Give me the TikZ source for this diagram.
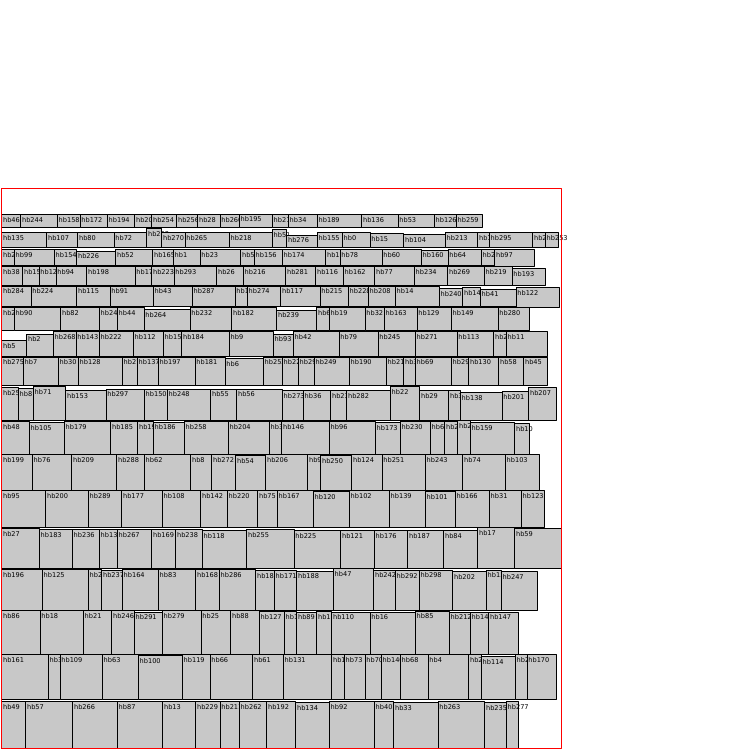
\documentclass[tikz,border=0pt]{standalone}
\usepackage{fontspec}
\newfontfamily\tagfont{DejaVu Sans}
\begin{document}
\begin{tikzpicture}[x=1pt, y=-1pt, line join=round]
  \definecolor{boxgray}{RGB}{200,200,200}
  \path[use as bounding box] (0,0) rectangle (750,750);
  \fill[white] (0,0) rectangle (750,750);
  \tikzset{
    hbbox/.style={draw=black, fill=boxgray, line width=0.9pt, anchor=north west,
      inner sep=0pt, outer sep=0pt},
    hbtag/.style={anchor=base west, inner sep=0pt, text=black,
      font=\tagfont\fontsize{6.6}{7}\selectfont}
  }
  % Shelves are packed top to bottom; each box is drawn with its tag, left to right.
  % shelf 1
  \foreach \x/\y/\w/\h/\n in {1.7/214.5/19.0/13/hb46, 20.7/214.5/36.6/13/hb244,
    57.3/214.5/22.7/13/hb158, 80.0/214.5/27.3/13/hb172, 107.3/214.5/27.4/13/hb194,
    134.7/214.5/17.0/13/hb203, 151.7/214.5/25.0/13/hb254, 176.7/214.5/21.0/13/hb256,
    197.7/214.5/22.3/13/hb28, 220.0/214.5/19.3/13/hb260, 239.3/214/33.0/13.5/hb195,
    272.3/214.5/16.0/13/hb210, 288.3/214.5/29.0/13/hb34, 317.3/214.5/44.4/13/hb189,
    361.7/214.5/36.3/13/hb136, 398.0/214.5/36.3/13/hb53, 434.3/214.5/22.0/13/hb126,
    456.3/214.5/25.7/13/hb259}{
    \node[hbbox, minimum width=\w pt, minimum height=\h pt] (\n) at (\x,\y) {};
    \node[hbtag] at ([xshift=1.2pt,yshift=-7.9pt]\n.north west) {\n};
  }
  % shelf 2
  \foreach \x/\y/\w/\h/\n in {1.7/232.7/45.0/15/hb135, 46.7/232.7/31.0/15/hb107,
    77.7/232.7/36.3/15/hb80, 114.0/232.7/32.7/15/hb72, 146.7/228.3/15.0/19.4/hb233,
    161.7/232.7/23.3/15/hb270, 185.0/232.7/44.3/15/hb265, 229.3/232.7/43.0/15/hb218,
    272.3/229.3/14.4/18.4/hb51, 286.7/235/30.6/12.7/hb276, 317.3/232.7/25.0/15/hb155,
    342.3/232.7/27.7/15/hb0, 370/233.3/33.7/14.4/hb15, 403.7/234.3/41.6/13.4/hb104,
    445.3/232.7/32.4/15/hb213, 477.7/232.7/11.6/15/hb106, 489.3/232.7/43.4/15/hb295,
    532.7/232.7/12.6/15/hb290, 545.3/232.7/12.7/14.6/hb253}{
    \node[hbbox, minimum width=\w pt, minimum height=\h pt] (\n) at (\x,\y) {};
    \node[hbtag] at ([xshift=1.2pt,yshift=-7.9pt]\n.north west) {\n};
  }
  % shelf 3
  \foreach \x/\y/\w/\h/\n in {1.7/249.3/12.6/15.7/hb20, 14.3/249.3/40.0/15.7/hb99,
    54.3/249.3/22.4/15.7/hb154, 76.7/251/39.0/14/hb226, 115.7/249.3/37.0/15.7/hb52,
    152.7/249.3/20.6/15.7/hb165, 173.3/249.3/26.7/15.7/hb1, 200/249.3/40.7/15.7/hb23,
    240.7/249.3/13.6/15.7/hb50, 254.3/249.3/28.0/15.7/hb156, 282.3/249.3/43.4/15.7/hb174,
    325.7/249.3/14.3/15.7/hb175, 340/249.3/42/15.7/hb78, 382/249.3/39.3/15.7/hb60,
    421.3/250/26.7/15/hb160, 448/249.3/33.3/15.7/hb64, 481.3/249.3/13.4/15.7/hb283,
    494.7/249.3/39.6/16.7/hb97}{
    \node[hbbox, minimum width=\w pt, minimum height=\h pt] (\n) at (\x,\y) {};
    \node[hbtag] at ([xshift=1.2pt,yshift=-7.9pt]\n.north west) {\n};
  }
  % shelf 4
  \foreach \x/\y/\w/\h/\n in {1.7/266.7/21.0/18.3/hb38, 22.7/266.7/16.3/18.3/hb157,
    39/266.7/17/18.3/hb12, 56/266.7/30.7/18.3/hb94, 86.7/266.7/48.3/18.3/hb198,
    135/266.7/16.7/18.3/hb178, 151.7/266.7/22.3/18.3/hb223, 174/266.7/42.7/18.3/hb293,
    216.7/266.7/26.6/18.3/hb26, 243.3/266.7/42.4/18.3/hb216, 285.7/266.7/30/18.3/hb281,
    315.7/266.7/27.6/18.3/hb116, 343.3/266.7/31.4/18.3/hb162, 374.7/266.7/39.6/18.3/hb77,
    414.3/266.7/33.4/18.3/hb234, 447.7/266.7/36.6/18.3/hb269, 484.3/266.7/27.7/18.3/hb219,
    512/268.3/33.3/16.7/hb193}{
    \node[hbbox, minimum width=\w pt, minimum height=\h pt] (\n) at (\x,\y) {};
    \node[hbtag] at ([xshift=1.2pt,yshift=-7.9pt]\n.north west) {\n};
  }
  % shelf 5
  \foreach \x/\y/\w/\h/\n in {1.7/286/29.3/20.7/hb284, 31/286/45.7/20.7/hb224,
    76.7/286/33.3/20.7/hb115, 110/286/43.3/20.7/hb91, 153.3/286/39/20.7/hb43,
    192.3/286/42.7/20.7/hb287, 235/286/12.3/20.7/hb111, 247.3/286/33.4/20.7/hb274,
    280.7/286/39.3/20.7/hb117, 320/286/28.3/20.7/hb215, 348.3/286/20/20.7/hb228,
    368.3/286/27/20.7/hb208, 395.3/286/44/20.7/hb14, 439.3/288.7/23.4/18/hb240,
    462.7/287.3/17.6/19.4/hb148, 480.3/289/35.7/17.7/hb41, 516/287.7/43.3/19.6/hb122}{
    \node[hbbox, minimum width=\w pt, minimum height=\h pt] (\n) at (\x,\y) {};
    \node[hbtag] at ([xshift=1.2pt,yshift=-7.9pt]\n.north west) {\n};
  }
  % shelf 6
  \foreach \x/\y/\w/\h/\n in {1.7/307.3/12.6/23.4/hb221, 14.3/307.3/46.4/23.4/hb90,
    60.7/307.3/38.6/23.4/hb82, 99.3/307.3/18/23.4/hb24, 117.3/307.3/26.7/23.4/hb44,
    144/309.3/46/21.4/hb264, 190/307.3/41.7/23.4/hb232, 231.7/307.3/45/23.4/hb182,
    276.7/310/40/20.7/hb239, 316.7/307.3/12.6/23.4/hb65, 329.3/307.3/35.7/23.4/hb19,
    365/307.3/19.3/23.4/hb32, 384.3/307.3/32.7/23.4/hb163, 417/307.3/34.3/23.4/hb129,
    451.3/307.3/46.7/23.4/hb149, 498/307.3/31.3/23.4/hb280}{
    \node[hbbox, minimum width=\w pt, minimum height=\h pt] (\n) at (\x,\y) {};
    \node[hbtag] at ([xshift=1.2pt,yshift=-7.9pt]\n.north west) {\n};
  }
  % shelf 7
  \foreach \x/\y/\w/\h/\n in {1.7/340.7/25/15.3/hb5, 26.7/334/26.6/22/hb2,
    53.3/331.7/22.7/24.3/hb268, 76/331.7/23.3/24.3/hb143, 99.3/331.7/34/24.3/hb222,
    133.3/331.7/30/24.3/hb112, 163.3/331.7/18.4/24.3/hb151, 181.7/331.7/47.6/24.3/hb184,
    229.3/331.7/44/24.3/hb9, 273.3/334/20/22/hb93, 293.3/331.7/45.7/24.3/hb42,
    339/331.7/39/24.3/hb79, 378/331.7/37.3/24.3/hb245, 415.3/331.7/41.7/24.3/hb271,
    457/331.7/36.7/24.3/hb113, 493.7/331.7/12.6/24.3/hb241, 506.3/331.7/40.7/24.3/hb11}{
    \node[hbbox, minimum width=\w pt, minimum height=\h pt] (\n) at (\x,\y) {};
    \node[hbtag] at ([xshift=1.2pt,yshift=-7.9pt]\n.north west) {\n};
  }
  % shelf 8
  \foreach \x/\y/\w/\h/\n in {1.7/357/21.6/28.3/hb275, 23.3/357/35/28.3/hb7,
    58.3/357/20/28.3/hb30, 78.3/357/44/28.3/hb128, 122.3/357/15/28.3/hb276,
    137.3/357/21/28.3/hb137, 158.3/357/36.7/28.3/hb197, 195/357/30/28.3/hb181,
    225/358.7/38.3/26.6/hb6, 263.3/357/19/28.3/hb252, 282.3/357/16/28.3/hb227,
    298.3/357/16/28.3/hb296, 314.3/357/35/28.3/hb249, 349.3/357/37/28.3/hb190,
    386.3/357/17.4/28.3/hb214, 403.7/357/11.6/28.3/hb3, 415.3/357/36/28.3/hb69,
    451.3/357/17.4/28.3/hb294, 468.7/357/30/28.3/hb130, 498.7/357/25/28.3/hb58,
    523.7/357/24/28.3/hb45}{
    \node[hbbox, minimum width=\w pt, minimum height=\h pt] (\n) at (\x,\y) {};
    \node[hbtag] at ([xshift=1.2pt,yshift=-7.9pt]\n.north west) {\n};
  }
  % shelf 9
  \foreach \x/\y/\w/\h/\n in {1.7/387.3/16.6/33/hb257, 18.3/388.7/15/31.6/hb81,
    33.3/386.3/32.4/34/hb71, 65.7/390.3/40.3/30/hb153, 106/389/38.3/31.3/hb297,
    144.3/389/23/31.3/hb150, 167.3/389/43.4/31.3/hb248, 210.7/389/26/31.3/hb55,
    236.7/389/45.6/31.3/hb56, 282.3/390.3/21/30/hb273, 303.3/390.3/27.4/30/hb36,
    330.7/390.3/16/30/hb231, 346.7/390.3/43.6/30/hb282, 390.3/386.3/29.4/34/hb22,
    419.7/390.3/29/30/hb29, 448.7/390.3/11.6/30/hb35, 460.3/392.3/41.7/28/hb138,
    502/391.3/26.7/29/hb201, 528.7/387.3/27.6/33/hb207}{
    \node[hbbox, minimum width=\w pt, minimum height=\h pt] (\n) at (\x,\y) {};
    \node[hbtag] at ([xshift=1.2pt,yshift=-7.9pt]\n.north west) {\n};
  }
  % shelf 10
  \foreach \x/\y/\w/\h/\n in {1.7/421.3/27.6/32.7/hb48, 29.3/422.3/35/31.7/hb105,
    64.3/421.3/46.4/32.7/hb179, 110.7/421.3/27/32.7/hb185, 137.7/421.3/15.6/32.7/hb191,
    153.3/422/31/32/hb186, 184.3/421.3/44/32.7/hb258, 228.3/421.3/41/32.7/hb204,
    269.3/421.3/12.4/32.7/hb37, 281.7/421.3/47.6/32.7/hb146, 329.3/421.3/46/32.7/hb96,
    375.3/422.3/25/31.7/hb173, 400.3/421.3/30/32.7/hb230, 430.3/421.3/14.4/32.7/hb67,
    444.7/421.3/13/32.7/hb217, 457.7/420.7/12.6/33.3/hb285, 470.3/422.3/44.4/31.7/hb159,
    514.7/423.7/14.6/30.3/hb10}{
    \node[hbbox, minimum width=\w pt, minimum height=\h pt] (\n) at (\x,\y) {};
    \node[hbtag] at ([xshift=1.2pt,yshift=-7.9pt]\n.north west) {\n};
  }
  % shelf 11
  \foreach \x/\y/\w/\h/\n in {1.7/454.7/30.6/35.3/hb199, 32.3/454.7/39.4/35.3/hb76,
    71.7/454.7/45/35.3/hb209, 116.7/454.7/27.6/35.3/hb288, 144.3/454.7/46.4/35.3/hb62,
    190.7/454.7/21/35.3/hb8, 211.7/454.7/24/35.3/hb272, 235.7/455.7/30/34.3/hb54,
    265.7/454.7/42/35.3/hb206, 307.7/454.7/13/35.3/hb98, 320.7/455.7/31/34.3/hb250,
    351.7/454.7/30.3/35.3/hb124, 382/454.7/43.3/35.3/hb251, 425.3/454.7/37.4/35.3/hb243,
    462.7/454.7/42.6/35.3/hb74, 505.3/454.7/34.4/35.3/hb103}{
    \node[hbbox, minimum width=\w pt, minimum height=\h pt] (\n) at (\x,\y) {};
    \node[hbtag] at ([xshift=1.2pt,yshift=-7.9pt]\n.north west) {\n};
  }
  % shelf 12
  \foreach \x/\y/\w/\h/\n in {1.7/490.7/44/36.6/hb95, 45.7/490.7/42.6/36.6/hb200,
    88.3/490.7/33.4/36.6/hb289, 121.7/490.7/40.6/36.6/hb177, 162.3/490.7/38.4/36.6/hb108,
    200.7/490.7/26.6/36.6/hb142, 227.3/490.7/30.4/36.6/hb220, 257.7/490.7/19.6/36.6/hb75,
    277.3/490.7/36/36.6/hb167, 313.3/491.7/36/35.6/hb120, 349.3/490.7/40/36.6/hb102,
    389.3/490.7/36/36.6/hb139, 425.3/491.7/30/35.6/hb101, 455.3/490.7/34/36.6/hb166,
    489.3/490.7/32/36.6/hb31, 521.3/490.7/23/36.6/hb123}{
    \node[hbbox, minimum width=\w pt, minimum height=\h pt] (\n) at (\x,\y) {};
    \node[hbtag] at ([xshift=1.2pt,yshift=-7.9pt]\n.north west) {\n};
  }
  % shelf 13
  \foreach \x/\y/\w/\h/\n in {1.7/528.7/37.6/39.6/hb27, 39.3/529.3/33/39/hb183,
    72.3/529.3/27/39/hb236, 99.3/529.3/18/39/hb132, 117.3/529.3/34.4/39/hb267,
    151.7/529.3/24/39/hb169, 175.7/529.3/26.6/39/hb238, 202.3/530.3/44.4/38/hb118,
    246.7/529.3/47.3/39/hb255, 294/530.3/46.7/38/hb225, 340.7/530.3/33.6/38/hb121,
    374.3/530.3/33.4/38/hb176, 407.7/530.3/36/38/hb187, 443.7/530.3/34/38/hb84,
    477.7/527.7/37/40.6/hb17, 514.7/528.7/46.3/39.6/hb59}{
    \node[hbbox, minimum width=\w pt, minimum height=\h pt] (\n) at (\x,\y) {};
    \node[hbtag] at ([xshift=1.2pt,yshift=-7.9pt]\n.north west) {\n};
  }
  % shelf 14
  \foreach \x/\y/\w/\h/\n in {1.7/569.3/40.6/40.7/hb196, 42.3/569.3/46/40.7/hb125,
    88.3/569.3/13.4/40.7/hb278, 101.7/570/20.6/40/hb237, 122.3/569.3/36/40.7/hb164,
    158.3/569.3/37.4/40.7/hb83, 195.7/569.3/23.6/40.7/hb168, 219.3/569.3/36.4/40.7/hb286,
    255.7/570.3/18.6/39.7/hb180, 274.3/570.3/22.4/39.7/hb171, 296.7/571/36.6/39/hb188,
    333.3/568.7/40/41.3/hb47, 373.7/570/21.6/40/hb242, 395.3/570.3/24/39.7/hb292,
    419.3/570/33.4/40/hb298, 452.7/571.7/33.6/38.3/hb202, 486.3/570/15/40/hb133,
    501.3/571.7/36.4/38.3/hb247}{
    \node[hbbox, minimum width=\w pt, minimum height=\h pt] (\n) at (\x,\y) {};
    \node[hbtag] at ([xshift=1.2pt,yshift=-7.9pt]\n.north west) {\n};
  }
  % shelf 15
  \foreach \x/\y/\w/\h/\n in {1.7/610.7/38.3/43.3/hb86, 40/610.7/43.3/43.3/hb18,
    83.3/610.7/28.4/43.3/hb21, 111.7/610.7/22.6/43.3/hb246, 134.3/612/28/42/hb291,
    162.3/610.7/38.7/43.3/hb279, 201/610.7/29.7/43.3/hb25, 230.7/610.7/28.6/43.3/hb88,
    259.3/611.5/25/42.5/hb127, 284.3/611.5/12.4/42.5/hb145, 296.7/612/20/42/hb89,
    316.7/611.5/15/42.5/hb152, 331.7/612/38.3/42/hb110, 370/612/45.3/42/hb16,
    415.3/611/34/43/hb85, 449.3/612/21/42/hb212, 470.3/612/18.4/42/hb141,
    488.7/612/29.3/42/hb147}{
    \node[hbbox, minimum width=\w pt, minimum height=\h pt] (\n) at (\x,\y) {};
    \node[hbtag] at ([xshift=1.2pt,yshift=-7.9pt]\n.north west) {\n};
  }
  % shelf 16
  \foreach \x/\y/\w/\h/\n in {1.7/654.7/46.6/45/hb161, 48.3/654.7/11.7/45/hb39,
    60/654.7/42.3/45/hb109, 102.3/654.7/36/45/hb63, 138.3/655.7/44/44/hb100,
    182.3/654.7/27.7/45/hb119, 210/654.7/42.7/45/hb66, 252.7/654.7/30.6/45/hb61,
    283.3/654.7/48.4/45/hb131, 331.7/654.7/12.6/45/hb144, 344.3/654.7/20.7/45/hb73,
    365/654.7/16.3/45/hb70, 381.3/654.7/19/45/hb140, 400.3/654.7/27.7/45/hb68,
    428/654.7/40.7/45/hb4, 468.7/654.7/12.6/45/hb205, 481.3/656.3/34/43.4/hb114,
    515.3/654.7/11.7/45/hb284, 527/654.7/29.3/45/hb170}{
    \node[hbbox, minimum width=\w pt, minimum height=\h pt] (\n) at (\x,\y) {};
    \node[hbtag] at ([xshift=1.2pt,yshift=-7.9pt]\n.north west) {\n};
  }
  % shelf 17
  \foreach \x/\y/\w/\h/\n in {1.7/701.3/24/46.7/hb49, 25.7/701.3/47/46.7/hb57,
    72.7/701.3/44.6/46.7/hb266, 117.3/701.3/45.4/46.7/hb87, 162.7/701.3/33/46.7/hb13,
    195.7/701.3/24.3/46.7/hb229, 220/701.3/19.3/46.7/hb211, 239.3/701.3/27.4/46.7/hb262,
    266.7/701.3/29/46.7/hb192, 295.7/702.3/33.6/45.7/hb134, 329.3/701.3/45/46.7/hb92,
    374.3/701.3/19.4/46.7/hb40, 393.7/702.3/44.3/45.7/hb33, 438/701.3/46.7/46.7/hb263,
    484.7/702.3/21.6/45.7/hb235, 506.3/701.3/11.7/46.7/hb277}{
    \node[hbbox, minimum width=\w pt, minimum height=\h pt] (\n) at (\x,\y) {};
    \node[hbtag] at ([xshift=1.2pt,yshift=-7.9pt]\n.north west) {\n};
  }
  % container outline
  \draw[red, line width=0.9pt] (1.2,188.2) rectangle (561,748);
\end{tikzpicture}
\end{document}
